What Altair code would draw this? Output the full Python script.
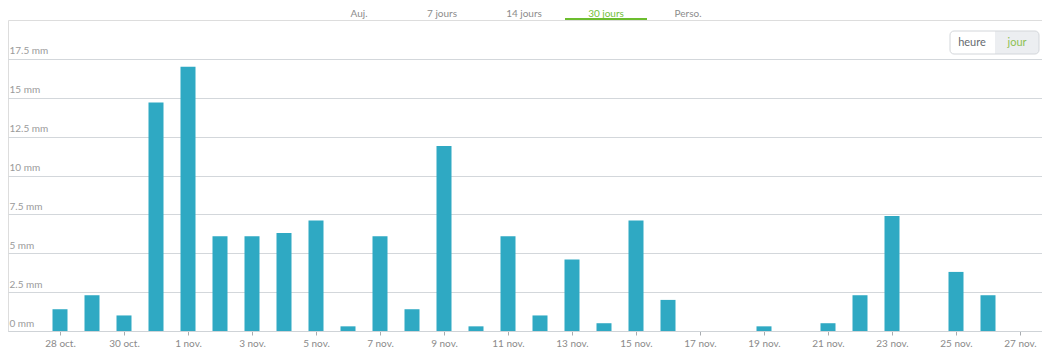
import altair as alt
import pandas as pd

# ---- data ----
dates = pd.date_range("2024-10-28", "2024-11-27", freq="D").strftime("%Y-%m-%d").tolist()
rain_mm = [1.4, 2.3, 1.0, 14.7, 17.0, 6.1, 6.1, 6.3, 7.1, 0.3,
           6.1, 1.4, 11.9, 0.3, 6.1, 1.0, 4.6, 0.5, 7.1, 2.0,
           0.0, 0.0, 0.3, 0.0, 0.5, 2.3, 7.4, 0.0, 3.8, 2.3, 0.0]
y_ticks = [0, 2.5, 5, 7.5, 10, 12.5, 15, 17.5]
x_tick_dates = dates[::2]
month_names = ["oct.", "nov."]
tab_labels = ["Auj.", "7 jours", "14 jours", "30 jours", "Perso."]
toggle_labels = ["heure", "jour"]

df = pd.DataFrame({"date": dates, "mm": rain_mm})

DAY = 86400000
base = int(pd.Timestamp(dates[0]).value // 10**6)
x_domain = [base - int(1.625 * DAY), base + int(30.6875 * DAY)]
x_values = [int(pd.Timestamp(d).value // 10**6) for d in x_tick_dates]

W, H = 1034, 311
FONT = "Lato"
BAR = "#2fa9c3"
GREEN = "#72bf3a"
TAB_GRAY = "#8c8c8c"

bars = alt.Chart(df).mark_bar(size=15, color=BAR).encode(
    x=alt.X("date:T", scale=alt.Scale(type="utc", domain=x_domain, padding=0),
            axis=alt.Axis(values=x_values, grid=False, title=None,
                          labelExpr="utcdate(datum.value) + ' ' + (utcmonth(datum.value) == 9 ? '%s' : '%s')" % tuple(month_names),
                          labelColor="#8a8a8a", labelFontSize=10, labelFont=FONT,
                          tickColor="#a8acb0", tickSize=4, labelPadding=3,
                          domainColor="#cfd3d7", labelFlush=False)),
    y=alt.Y("mm:Q", scale=alt.Scale(domain=[0, 20], nice=False),
            axis=alt.Axis(values=y_ticks, title=None, ticks=False, tickSize=0, domain=False,
                          labelExpr="datum.value + ' mm'", labelAlign="left",
                          labelBaseline="bottom", labelPadding=-1, labelOffset=-3,
                          labelColor="#9a9a9a", labelFontSize=10, labelFont=FONT,
                          gridColor="#d3d7db", gridWidth=1)),
)

one = pd.DataFrame({"k": [0]})
layers = [bars]

tab_x = [351, 434, 516, 598, 680]
for lbl, tx in zip(tab_labels, tab_x):
    layers.append(alt.Chart(one).mark_text(
        text=lbl, font=FONT, fontSize=10,
        color=GREEN if lbl == "30 jours" else TAB_GRAY, baseline="middle", align="center"
    ).encode(x=alt.value(tx), y=alt.value(-6)))

# active tab underline
layers.append(alt.Chart(one).mark_rect(color="#6cbd2e").encode(
    x=alt.value(557), x2=alt.value(639), y=alt.value(-2), y2=alt.value(0)))

# toggle box
layers.append(alt.Chart(one).mark_rect(color="#ffffff", cornerRadiusTopLeft=4, cornerRadiusBottomLeft=4).encode(
    x=alt.value(942), x2=alt.value(987), y=alt.value(11), y2=alt.value(34)))
layers.append(alt.Chart(one).mark_rect(color="#eceef1", cornerRadiusTopRight=4, cornerRadiusBottomRight=4).encode(
    x=alt.value(987), x2=alt.value(1031), y=alt.value(11), y2=alt.value(34)))
layers.append(alt.Chart(one).mark_rect(fill=None, fillOpacity=0, stroke="#d3d6da", strokeWidth=1, cornerRadius=4).encode(
    x=alt.value(942), x2=alt.value(1031), y=alt.value(11), y2=alt.value(34)))
layers.append(alt.Chart(one).mark_text(text=toggle_labels[0], font=FONT, fontSize=11, color="#666a70").encode(
    x=alt.value(964), y=alt.value(22.5)))
layers.append(alt.Chart(one).mark_text(text=toggle_labels[1], font=FONT, fontSize=11, color="#8cc152").encode(
    x=alt.value(1009), y=alt.value(22.5)))

chart = alt.layer(*layers).properties(
    width=W, height=H,
    autosize=alt.AutoSizeParams(type="none"),
    padding={"left": 0, "top": 12, "right": 0, "bottom": 16},
).configure_view(fill="#f6f8fa", stroke=None).configure(background="#ffffff")

chart.save("out.html", embed_options={"renderer": "svg", "actions": False})
